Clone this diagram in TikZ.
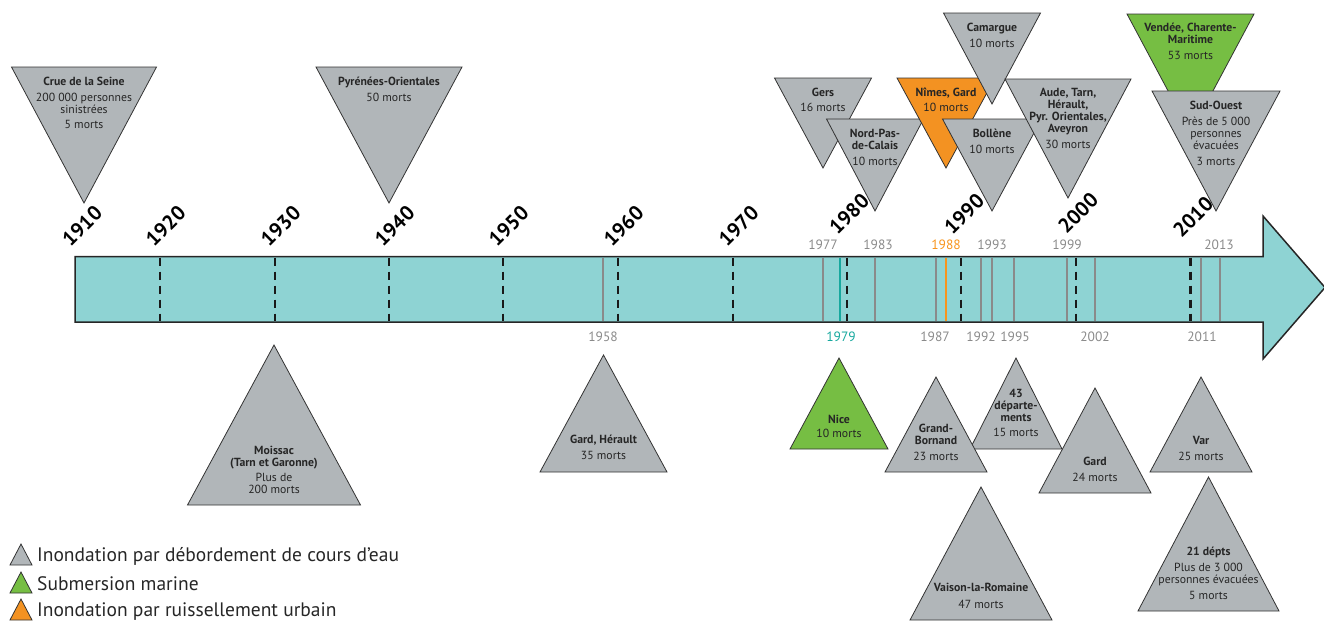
\documentclass[tikz,border=0pt]{standalone}
\usepackage{fontspec}
\setmainfont{PT Sans}
\definecolor{barcol}{RGB}{142,211,211}
\definecolor{trigray}{RGB}{177,182,185}
\definecolor{grn}{RGB}{118,190,67}
\definecolor{orng}{RGB}{243,146,34}
\definecolor{evgray}{RGB}{138,138,138}
\definecolor{tealev}{RGB}{23,168,158}
\definecolor{orngev}{RGB}{247,148,29}
\tikzset{
  tri/.style={draw=black!80, line width=0.8pt},
  lbl/.style={align=center, inner sep=0pt, text=black!85, font=\fontsize{11.75}{12}\selectfont},
  decade/.style={font=\fontsize{20.5}{20}\selectfont\bfseries, rotate=45, inner sep=0pt},
  yrlbl/.style={font=\fontsize{13.5}{13}\selectfont, text=evgray, inner sep=0pt},
  cut/.style={line width=2.5pt, dash pattern=on 8pt off 6pt, black!90},
  ev/.style={line width=2pt, draw=evgray},
  leg/.style={font=\fontsize{19.5}{20}\selectfont, text=black!85, inner sep=0pt, anchor=west}
}
\newcommand{\tridown}[5]{\filldraw[tri, fill=#5] ({#1-#2/2},#3) -- ({#1+#2/2},#3) -- (#1,{#3+#4}) -- cycle;}
\newcommand{\triup}[5]{\filldraw[tri, fill=#5] ({#1-#2/2},#3) -- ({#1+#2/2},#3) -- (#1,{#3-#4}) -- cycle;}
\begin{document}
\begin{tikzpicture}[x=1pt, y=-1pt]
\useasboundingbox (0,0) rectangle (1324,621);

\def\xa{75};
\def\xh{1263};
\def\yt{256.5};
\def\yb{322};
\def\yht{216};
\def\yhb{359};
\def\ymid{287.5};

\filldraw[fill=barcol, draw=black!85, line width=1.5pt] (\xa,\yt) -- (\xh,\yt) -- (\xh,\yht) -- (1325,\ymid) -- (\xh,\yhb) -- (\xh,\yb) -- (\xa,\yb) -- cycle;

\foreach \x in {160,275,389,503,618,733,847,961,1076,1190.5}
  \draw[cut] (\x,257.5) -- (\x,321);
\foreach \yr/\x in {1910/76.5,1920/160,1930/275,1940/389,1950/503,1960/618,1970/733}
  \node[decade] (d\yr) at ({\x+5.5},226) {\yr};
\foreach \yr/\x/\y in {1980/849/214,1990/964/214,2000/1078/213,2010/1193/217}
  \node[decade] (d\yr) at (\x,\y) {\yr};

\foreach \x in {603,823,875,935.5,980.7,991.8,1013.7,1066.8,1094.6,1201,1220}
  \draw[ev] (\x,257.5) -- (\x,321);
\draw[ev, draw=tealev, line width=2.8pt] (840,257.5) -- (840,321);
\draw[ev, draw=orngev, line width=2.8pt] (946,257.5) -- (946,321);

\foreach \yr/\x in {1977/823,1983/878,1993/992,1999/1067,2013/1219}
  \node[yrlbl] (a\yr) at (\x,245) {\yr};
\node[yrlbl, text=orngev] (a1988) at (946,245) {1988};
\foreach \yr/\x in {1958/603,1987/935,1992/981,1995/1015,2002/1095,2011/1202}
  \node[yrlbl] (b\yr) at (\x,336.5) {\yr};
\node[yrlbl, text=tealev] (b1979) at (841,336.5) {1979};

\tridown{84}{145}{67}{136}{trigray}
\tridown{389}{146}{67}{136}{trigray}
\tridown{823}{97}{78}{90}{trigray}
\tridown{875}{97}{119}{92}{trigray}
\tridown{946}{98}{78}{90}{orng}
\tridown{992}{97}{13}{91}{trigray}
\tridown{992}{99}{119}{92}{trigray}
\tridown{1068}{126}{79}{119}{trigray}
\tridown{1190.5}{127}{14}{119}{grn}
\tridown{1216}{128}{91}{120}{trigray}

\node[lbl, anchor=north] (seine) at (84,77) {\textbf{Crue de la Seine}\\[4pt]200 000 personnes\\sinistrées\\[3pt]5 morts};
\node[lbl, anchor=north] (pyr) at (389,77) {\textbf{Pyrénées-Orientales}\\[4pt]50 morts};
\node[lbl, anchor=north] (gers) at (823,88) {\textbf{Gers}\\[3pt]16 morts};
\node[lbl, anchor=north] (npdc) at (875,129) {\textbf{Nord-Pas-}\\\textbf{de-Calais}\\[4pt]10 morts};
\node[lbl, anchor=north] (nimes) at (946,88) {\textbf{Nîmes, Gard}\\[3pt]10 morts};
\node[lbl, anchor=north] (camargue) at (992,23) {\textbf{Camargue}\\[4pt]10 morts};
\node[lbl, anchor=north] (bollene) at (992,129) {\textbf{Bollène}\\[4pt]10 morts};
\node[lbl, anchor=north] (aude) at (1068,88) {\textbf{Aude, Tarn,}\\\textbf{Hérault,}\\\textbf{Pyr. Orientales,}\\\textbf{Aveyron}\\[4pt]30 morts};
\node[lbl, anchor=north] (vendee) at (1190.5,23) {\textbf{Vendée, Charente-}\\\textbf{Maritime}\\[4pt]53 morts};
\node[lbl, anchor=north] (sudouest) at (1216,101) {\textbf{Sud-Ouest}\\[4pt]Près de 5 000\\personnes\\évacuées\\[4pt]3 morts};

\triup{274}{173}{505}{160}{trigray}
\triup{603.5}{127}{472}{117}{trigray}
\triup{839}{98}{449}{91}{grn}
\triup{1016}{92}{449}{91}{trigray}
\triup{936}{102}{472}{95}{trigray}
\triup{1095}{112}{493}{105}{trigray}
\triup{1201}{102}{472}{95}{trigray}
\triup{981}{142}{620}{133}{trigray}
\triup{1208.5}{141}{611}{134}{trigray}

\node[lbl, anchor=north] (moissac) at (274,446) {\textbf{Moissac}\\\textbf{(Tarn et Garonne)}\\[3pt]Plus de\\200 morts};
\node[lbl, anchor=north] (gardh) at (603.5,435) {\textbf{Gard, Hérault}\\[4pt]35 morts};
\node[lbl, anchor=north] (nice) at (839,415) {\textbf{Nice}\\[2pt]10 morts};
\node[lbl, anchor=north] (dep43) at (1016,389) {\textbf{43}\\\textbf{départe-}\\\textbf{ments}\\[3pt]15 morts};
\node[lbl, anchor=north] (bornand) at (936,424) {\textbf{Grand-}\\\textbf{Bornand}\\[4pt]23 morts};
\node[lbl, anchor=north] (gard) at (1095,457) {\textbf{Gard}\\[4pt]24 morts};
\node[lbl, anchor=north] (var) at (1201,436) {\textbf{Var}\\[4pt]25 morts};
\node[lbl, anchor=north] (vaison) at (981,583) {\textbf{Vaison-la-Romaine}\\[5pt]47 morts};
\node[lbl, anchor=north] (dep21) at (1208.5,547) {\textbf{21 dépts}\\[4pt]Plus de 3 000\\personnes évacuées\\[4pt]5 morts};

\triup{21}{22}{565}{21}{trigray}
\triup{21}{22}{593}{21}{grn}
\triup{21}{22}{620}{21}{orng}
\node[leg] (l1) at (37,556) {Inondation par débordement de cours d’eau};
\node[leg] (l2) at (37,584) {Submersion marine};
\node[leg] (l3) at (37,612) {Inondation par ruissellement urbain};

\end{tikzpicture}
\end{document}
